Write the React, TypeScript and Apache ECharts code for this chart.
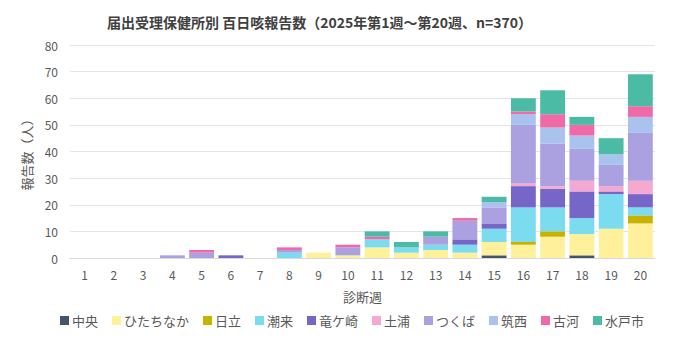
import React, { useEffect, useRef } from "react";
import * as echarts from "echarts";

const weeks = ["1","2","3","4","5","6","7","8","9","10","11","12","13","14","15","16","17","18","19","20"];
const seriesNames = ["中央","ひたちなか","日立","潮来","竜ケ崎","土浦","つくば","筑西","古河","水戸市"];
const colors = ["#44546a","#fff09c","#c9b100","#7adcee","#7566c8","#f5a8d0","#aba0e0","#a9c2ee","#f06aa8","#4cbba6"];

const chuo       = [0,0,0,0,0,0,0,0,0,0,0,0,0,0,1,0,0,1,0,0];
const hitachinaka= [0,0,0,0,0,0,0,0,2,1,4,2,3,2,5,5,8,8,11,13];
const hitachi    = [0,0,0,0,0,0,0,0,0,0,0,0,0,0,0,1,2,0,0,3];
const itako      = [0,0,0,0,0,0,0,2,0,0,3,2,2,3,5,13,9,6,13,3];
const ryugasaki  = [0,0,0,0,0,1,0,0,0,0,0,0,0,2,2,8,7,10,1,5];
const tsuchiura  = [0,0,0,0,0,0,0,0,0,0,0,0,0,0,0,1,1,4,2,5];
const tsukuba    = [0,0,0,1,2,0,0,1,0,3,0,0,3,7,6,22,16,12,8,18];
const chikusei   = [0,0,0,0,0,0,0,0,0,0,0,0,0,0,2,4,6,5,4,6];
const koga       = [0,0,0,0,1,0,0,1,0,1,1,0,0,1,0,1,5,4,0,4];
const mito       = [0,0,0,0,0,0,0,0,0,0,2,2,2,0,2,5,9,3,6,12];

const allData = [chuo, hitachinaka, hitachi, itako, ryugasaki, tsuchiura, tsukuba, chikusei, koga, mito];
const yTicks = [0, 10, 20, 30, 40, 50, 60, 70, 80];

export default function App() {
  const ref = useRef<HTMLDivElement>(null);
  useEffect(() => {
    if (!ref.current) return;
    const chart = echarts.init(ref.current, null, { renderer: "svg" });
    const font = "'Noto Sans CJK JP', 'Noto Sans', sans-serif";
    chart.setOption({
      animation: false,
      textStyle: { fontFamily: font },
      title: {
        text: "{a|届出受理保健所別 百日咳報告数（}{b|2025}{a|年第}{b|1}{a|週～第}{b|20}{a|週、}{b|n=370}{a|）}",
        left: 94,
        top: 2,
        textStyle: {
          rich: {
            a: { fontSize: 14, color: "#404040", fontFamily: font },
            b: { fontSize: 14, color: "#404040", fontWeight: "bold", fontFamily: font },
          },
        },
      },
      legend: {
        bottom: 0,
        left: 47,
        itemWidth: 9,
        itemHeight: 9,
        itemGap: 14,
        icon: "rect",
        textStyle: { fontSize: 13, color: "#595959", fontFamily: font, padding: [0, 0, 0, -2] },
        data: seriesNames,
      },
      grid: { left: 62, right: 17, top: 37, bottom: 74 },
      xAxis: {
        type: "category",
        data: weeks,
        name: "診断週",
        nameLocation: "middle",
        nameGap: 32,
        nameTextStyle: { fontSize: 13, color: "#595959" },
        axisLine: { lineStyle: { color: "#d9d9d9" } },
        axisTick: { show: false },
        axisLabel: { color: "#595959", fontSize: 12, margin: 10 },
      },
      yAxis: {
        type: "value",
        min: yTicks[0],
        max: yTicks[yTicks.length - 1],
        interval: 10,
        name: "報告数（人）",
        nameLocation: "middle",
        nameRotate: 90,
        nameGap: 37,
        nameTextStyle: { fontSize: 13, color: "#595959" },
        axisLine: { show: false },
        axisTick: { show: false },
        axisLabel: { color: "#595959", fontSize: 12, margin: 12 },
        splitLine: { lineStyle: { color: "#e4e4e4" } },
      },
      series: seriesNames.map((name, i) => ({
        name,
        type: "bar",
        stack: "total",
        barCategoryGap: "15%",
        itemStyle: { color: colors[i] },
        data: allData[i],
      })),
    });
    return () => chart.dispose();
  }, []);
  return <div ref={ref} style={{ width: 664, height: 324 }} />;
}
